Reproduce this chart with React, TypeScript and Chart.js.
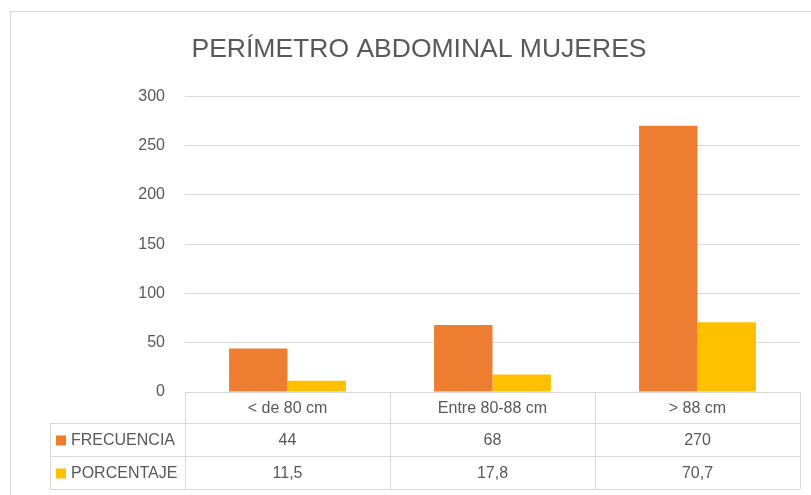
import React, { useEffect, useRef } from "react";
import { Chart, registerables } from "chart.js";

Chart.register(...registerables);

const TITLE = "PERÍMETRO ABDOMINAL MUJERES";
const CATEGORIES = ["< de 80 cm", "Entre 80-88 cm", "> 88 cm"];
const SERIES_NAMES = ["FRECUENCIA", "PORCENTAJE"];
const FRECUENCIA = [44, 68, 270];
const PORCENTAJE = [11.5, 17.8, 70.7];
const Y_TICKS = { min: 0, max: 300, step: 50 };

const COLORS = ["#ED7D31", "#FFC000"];
const TEXT = "#595959";
const GRID = "#D9D9D9";
const FONT = "'Liberation Sans', Arial, sans-serif";

const fmt = (v: number) => String(v).replace(".", ",");

const tablePlugin = {
  id: "dataTable",
  afterDraw(chart: any) {
    const ctx = chart.ctx;
    const xs = chart.scales.x;
    const area = chart.chartArea;
    const n = CATEGORIES.length;
    const colW = (area.right - area.left) / n;
    const top = area.bottom;
    const rowH = [31, 33, 33];
    const rowsY = [top, top + rowH[0], top + rowH[0] + rowH[1], top + rowH[0] + rowH[1] + rowH[2]];
    const legendLeft = 50;
    ctx.save();
    // chart outer border
    ctx.strokeStyle = GRID;
    ctx.lineWidth = 1;
    ctx.strokeRect(10.5, 11.5, 900, 600);

    ctx.beginPath();
    ctx.moveTo(area.left, Math.round(rowsY[0]) + 0.5);
    ctx.lineTo(area.right, Math.round(rowsY[0]) + 0.5);
    for (let r = 1; r < rowsY.length; r++) {
      ctx.moveTo(legendLeft, Math.round(rowsY[r]) + 0.5);
      ctx.lineTo(area.right, Math.round(rowsY[r]) + 0.5);
    }
    for (let c = 0; c <= n; c++) {
      const x = Math.round(area.left + c * colW) + 0.5;
      ctx.moveTo(x, rowsY[0]);
      ctx.lineTo(x, rowsY[3]);
    }
    ctx.moveTo(legendLeft + 0.5, rowsY[1]);
    ctx.lineTo(legendLeft + 0.5, rowsY[3]);
    ctx.stroke();

    ctx.fillStyle = TEXT;
    ctx.font = `16px ${FONT}`;
    ctx.textAlign = "center";
    ctx.textBaseline = "middle";
    CATEGORIES.forEach((c, i) => {
      ctx.fillText(c, xs.getPixelForValue(i), (rowsY[0] + rowsY[1]) / 2 + 1);
    });
    const seriesData = [FRECUENCIA, PORCENTAJE];
    seriesData.forEach((vals, s) => {
      const cy = (rowsY[s + 1] + rowsY[s + 2]) / 2 + 1;
      ctx.fillStyle = COLORS[s];
      ctx.fillRect(legendLeft + 6, cy - 5, 10, 10);
      ctx.fillStyle = TEXT;
      ctx.textAlign = "left";
      ctx.fillText(SERIES_NAMES[s], legendLeft + 21, cy);
      ctx.textAlign = "center";
      vals.forEach((v, i) => {
        ctx.fillText(fmt(v), xs.getPixelForValue(i), cy);
      });
    });
    ctx.restore();
  },
};

export default function App() {
  const ref = useRef<HTMLCanvasElement>(null);
  useEffect(() => {
    if (!ref.current) return;
    const chart = new Chart(ref.current, {
      type: "bar",
      data: {
        labels: CATEGORIES,
        datasets: [
          { label: SERIES_NAMES[0], data: FRECUENCIA, backgroundColor: COLORS[0] },
          { label: SERIES_NAMES[1], data: PORCENTAJE, backgroundColor: COLORS[1] },
        ],
      },
      options: {
        responsive: false,
        animation: false,
        layout: { padding: { left: 38, right: 11, top: 0, bottom: 103 } },
        datasets: { bar: { barPercentage: 1, categoryPercentage: 0.57 } },
        plugins: {
          legend: { display: false },
          tooltip: { enabled: false },
          title: {
            display: true,
            text: TITLE,
            color: TEXT,
            font: { family: FONT, size: 26.5, weight: "normal" },
            padding: { top: 34, bottom: 30.4 },
          },
        },
        scales: {
          x: { display: false },
          y: {
            min: Y_TICKS.min,
            max: Y_TICKS.max,
            ticks: { stepSize: Y_TICKS.step, color: TEXT, padding: 20, font: { family: FONT, size: 16 } },
            grid: { color: GRID, drawTicks: false },
            border: { display: false },
            afterFit: (scale: any) => {
              scale.width = 147;
            },
          },
        },
      },
      plugins: [tablePlugin],
    });
    return () => chart.destroy();
  }, []);
  return (
    <div style={{ position: "absolute", left: 0, top: 0, width: 811, height: 495, background: "#fff" }}>
      <canvas ref={ref} width={811} height={495} style={{ display: "block" }} />
    </div>
  );
}
